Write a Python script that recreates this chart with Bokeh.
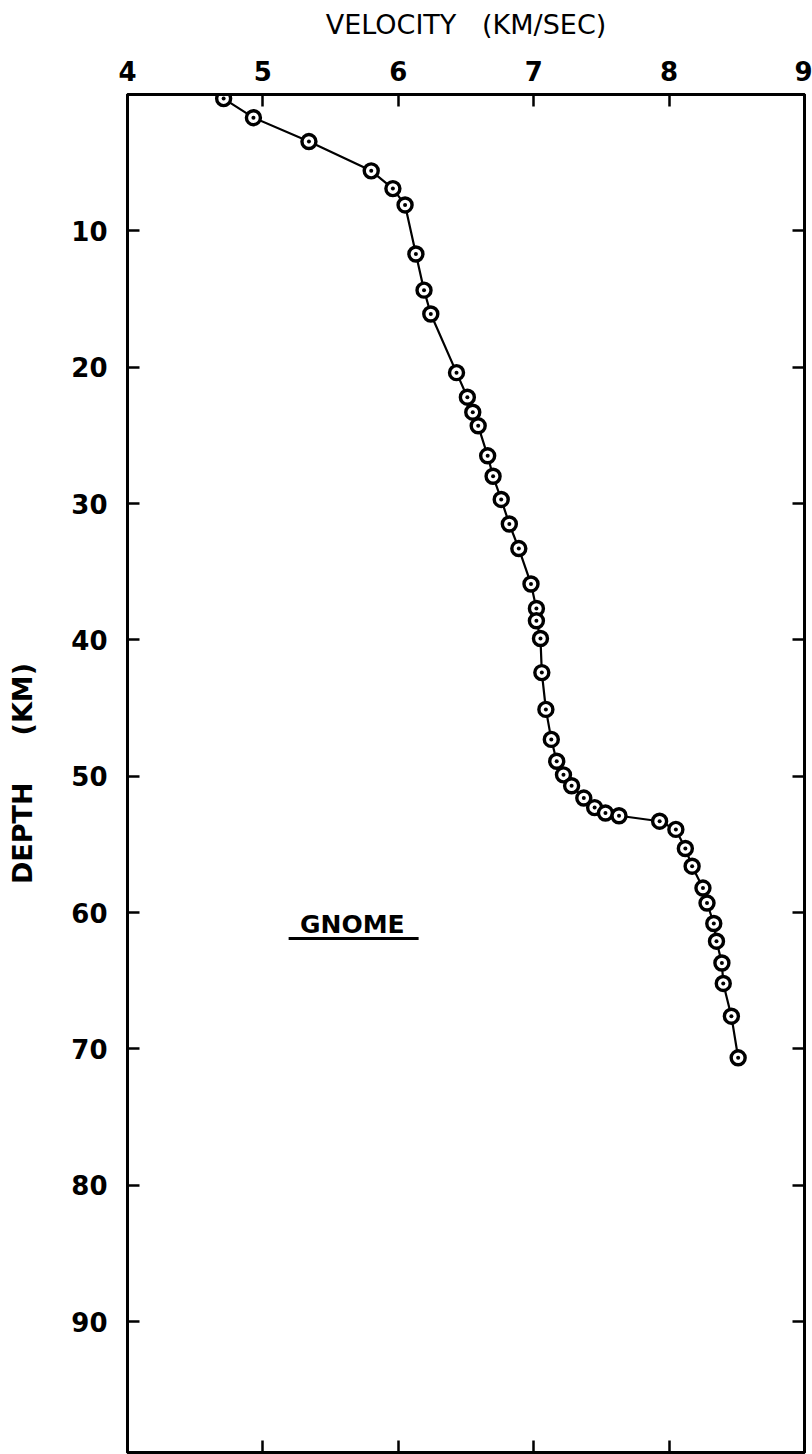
from bokeh.plotting import figure
from bokeh.models import Range1d, LinearAxis, FixedTicker, Label
from bokeh.embed import file_html
from bokeh.resources import INLINE

# Data (velocity in km/s, depth in km)
velocity = [4.71, 4.93, 5.34, 5.80, 5.96, 6.05, 6.13, 6.19, 6.24, 6.43,
            6.51, 6.55, 6.59, 6.66, 6.70, 6.76, 6.82, 6.89, 6.98, 7.02,
            7.02, 7.05, 7.06, 7.09, 7.13, 7.17, 7.22, 7.28, 7.37, 7.45,
            7.53, 7.63, 7.93, 8.05, 8.12, 8.17, 8.25, 8.28, 8.33, 8.35,
            8.39, 8.40, 8.46, 8.51]
depth = [0.3, 1.7, 3.45, 5.6, 6.9, 8.1, 11.7, 14.35, 16.1, 20.4,
         22.2, 23.3, 24.3, 26.5, 28.0, 29.7, 31.5, 33.3, 35.9, 37.7,
         38.6, 39.9, 42.4, 45.1, 47.3, 48.9, 49.9, 50.7, 51.6, 52.3,
         52.7, 52.9, 53.3, 53.9, 55.3, 56.6, 58.2, 59.3, 60.8, 62.1,
         63.7, 65.2, 67.6, 70.65]

x_ticks_top = [4, 5, 6, 7, 8, 9]
x_ticks_bottom = [5, 6, 7, 8]
y_ticks = [10, 20, 30, 40, 50, 60, 70, 80, 90]

NB = "\u00a0"
title_text = "VELOCITY" + NB * 3 + "(KM/SEC)"
ylabel_text = "DEPTH" + NB * 5 + "(KM)"
site_label = "GNOME"
site_x, site_y = 5.66, 60.9
underline_x0, underline_x1, underline_y = 5.19, 6.15, 61.9

FONT = "DejaVu Sans"

p = figure(width=812, height=1454, output_backend="svg", toolbar_location=None,
           x_range=Range1d(4, 9), y_range=Range1d(99.6, 0),
           x_axis_location="above",
           min_border_left=127, min_border_right=8,
           min_border_top=94, min_border_bottom=2)

p.grid.visible = False
p.outline_line_color = "black"
p.outline_line_width = 3
p.background_fill_color = "white"
p.border_fill_color = "white"

def style_axis(ax, ticks, show_labels):
    ax.ticker = FixedTicker(ticks=ticks)
    ax.axis_line_color = "black"
    ax.axis_line_width = 3
    ax.major_tick_line_color = "black"
    ax.major_tick_line_width = 2.5
    ax.major_tick_in = 12
    ax.major_tick_out = 0
    ax.minor_tick_line_color = None
    if show_labels:
        ax.major_label_text_font = FONT
        ax.major_label_text_font_style = "bold"
        ax.major_label_text_font_size = "26px"
        ax.major_label_text_color = "black"
    else:
        ax.major_label_text_font_size = "0px"
        ax.major_label_standoff = 0
        ax.major_label_overrides = {t: "" for t in ticks}

# top axis
xa = p.xaxis[0]
style_axis(xa, x_ticks_top, True)
xa.major_label_standoff = 14
xa.axis_label = title_text
xa.axis_label_text_font = FONT
xa.axis_label_text_font_style = "normal"
xa.axis_label_text_font_size = "27px"
xa.axis_label_text_color = "black"
xa.axis_label_standoff = 18

# left axis
ya = p.yaxis[0]
style_axis(ya, y_ticks, True)
ya.major_label_standoff = 20
ya.axis_label = ylabel_text
ya.axis_label_text_font = FONT
ya.axis_label_text_font_style = "bold"
ya.axis_label_text_font_size = "27px"
ya.axis_label_text_color = "black"
ya.axis_label_standoff = 30

# right axis (ticks only)
ra = LinearAxis()
style_axis(ra, y_ticks, False)
p.add_layout(ra, "right")

# bottom axis (ticks only)
ba = LinearAxis()
style_axis(ba, x_ticks_bottom, False)
p.add_layout(ba, "below")

# profile
p.line(velocity, depth, line_color="black", line_width=2.2)
p.scatter(velocity, depth, marker="circle", size=14, fill_color="white",
          line_color="black", line_width=3.4)
p.scatter(velocity, depth, marker="circle", size=4, fill_color="black",
          line_color="black", line_width=0)

# site annotation
p.add_layout(Label(x=site_x, y=site_y, text=site_label, text_font=FONT,
                   text_font_style="bold", text_font_size="25px",
                   text_color="black", text_align="center",
                   text_baseline="middle"))
p.segment(x0=[underline_x0], y0=[underline_y], x1=[underline_x1], y1=[underline_y],
          line_color="black", line_width=3)

open("out.html", "w").write(file_html(p, INLINE))
